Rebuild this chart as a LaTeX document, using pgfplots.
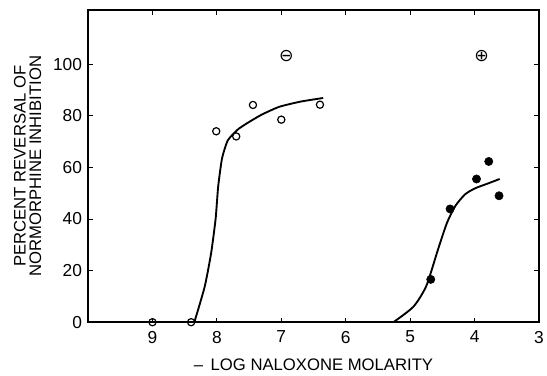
\documentclass[border=0pt]{standalone}
\usepackage{pgfplots}
\pgfplotsset{compat=1.18}
\usepackage{fontspec}
\setmainfont{Liberation Sans}
\newfontfamily\symfont{DejaVu Sans}
\begin{document}
\begin{tikzpicture}
\begin{axis}[
  scale only axis,
  width=338pt, height=234pt,
  x dir=reverse,
  xmin=3, xmax=10, ymin=0, ymax=121,
  xtick={3,4,5,6,7,8,9}, ytick={0,20,40,60,80,100},
  tick align=inside, major tick length=3.5pt,
  tick style={line width=0.7pt, black},
  axis line style={line width=1.3pt},
  /pgf/number format/assume math mode=true,
  tick label style={font=\fontsize{13}{14}\selectfont},
  xticklabel style={yshift=-3pt},
  yticklabel style={xshift=-1pt},
  xlabel={--\,\ LOG NALOXONE MOLARITY},
  xlabel style={font=\fontsize{12.5}{13}\selectfont, yshift=-5pt},
  ylabel={PERCENT REVERSAL OF\\NORMORPHINE INHIBITION},
  ylabel style={font=\fontsize{12.5}{11.5}\selectfont, align=center, yshift=2pt},
  clip=false,
]
% fitted curves
\addplot[black, line width=1.4pt, smooth, tension=0.35] coordinates {
  (8.35,0) (8.19,13.7) (8.09,26.7) (8.02,40) (7.98,52.6) (7.92,63.5)
  (7.83,70.5) (7.67,74.8) (7.5,77.6) (7.3,80.5) (7.03,83.5) (6.7,85.5) (6.35,86.9)};
\addplot[black, line width=1.4pt, smooth, tension=0.4] coordinates {
  (5.26,0) (4.95,6.0) (4.75,14) (4.57,28) (4.43,38.4) (4.30,45)
  (4.15,49.5) (4.0,51.8) (3.8,53.7) (3.61,55.5)};
% open circles
\addplot[only marks, mark=o, mark size=2.7pt, mark options={line width=0.9pt, fill=white}] coordinates {
  (9,0) (8.4,0) (8.01,74) (7.70,72) (7.44,84.2) (7.0,78.5) (6.40,84.3)};
% filled circles
\addplot[only marks, mark=*, mark size=3.1pt, black] coordinates {
  (4.68,16.6) (4.38,43.9) (3.97,55.5) (3.78,62.3) (3.62,49)};
\node at (axis cs:6.92,103) {\symfont\fontsize{13}{13}\selectfont ⊖};
\node at (axis cs:3.89,103) {\symfont\fontsize{13}{13}\selectfont ⊕};
\coordinate (ll) at (rel axis cs:0,0);
\coordinate (ur) at (rel axis cs:1,1);
\end{axis}
\pgfresetboundingbox
\path ([shift={(-66pt,-40pt)}]ll) rectangle ([shift={(6pt,7.5pt)}]ur);
\end{tikzpicture}
\end{document}
